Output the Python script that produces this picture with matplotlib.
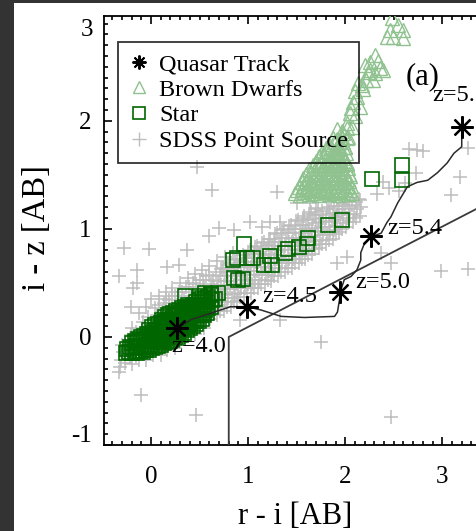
import matplotlib
matplotlib.use("Agg")
import matplotlib.pyplot as plt
import matplotlib.transforms as mtransforms
from matplotlib.lines import Line2D
from matplotlib.patches import Rectangle
from matplotlib.ticker import MultipleLocator

plt.rcParams["font.family"] = ["Liberation Serif", "DejaVu Serif"]
plt.rcParams["axes.unicode_minus"] = False

# ------------------------------------------------------------
# data
# ------------------------------------------------------------
# quasar colour track
track_x = [0.27, 0.41, 0.55, 0.65, 0.82, 0.99, 1.13, 1.34, 1.58, 1.89, 1.92,
           1.94, 1.95, 1.99, 2.06, 2.12, 2.16, 2.16, 2.20, 2.27, 2.37, 2.43,
           2.47, 2.54, 2.58, 2.64, 2.74, 2.85, 2.95, 3.05, 3.12, 3.20, 3.20]
track_y = [0.08, 0.16, 0.20, 0.23, 0.28, 0.28, 0.25, 0.19, 0.18, 0.19, 0.23,
           0.34, 0.42, 0.53, 0.56, 0.62, 0.71, 0.78, 0.87, 0.93, 0.96, 1.06,
           1.11, 1.24, 1.30, 1.39, 1.43, 1.45, 1.52, 1.61, 1.70, 1.76, 1.94]

# redshift markers on the track
z_x = [0.27, 0.99, 1.95, 2.27, 3.20]
z_y = [0.08, 0.28, 0.42, 0.93, 1.94]
z_labels = ["z=4.0", "z=4.5", "z=5.0", "z=5.4", "z=5.5"]
z_label_x = [0.21, 1.15, 2.10, 2.43, 2.90]
z_label_y = [-0.09, 0.37, 0.50, 1.00, 2.23]

# selection boundary
cut_x = [0.80, 0.80, 3.60]
cut_y = [-1.00, 0.00, 1.30]

# SDSS point sources: stellar locus band + scattered sources
sdss_xy = [
    (-0.31, -0.21), (-0.29, -0.14), (-0.30, -0.07), (-0.22, -0.19), (-0.24, -0.12),
    (-0.23, -0.05), (-0.21, 0.02), (-0.16, -0.18), (-0.15, -0.10), (-0.17, -0.03),
    (-0.16, 0.05), (-0.09, -0.15), (-0.08, -0.08), (-0.10, 0.00), (-0.09, 0.07),
    (-0.08, 0.14), (-0.02, -0.13), (-0.03, -0.05), (-0.01, 0.03), (-0.02, 0.10),
    (-0.03, 0.18), (0.05, -0.10), (0.06, -0.02), (0.04, 0.06), (0.05, 0.13),
    (0.06, 0.20), (0.04, 0.27), (0.12, -0.08), (0.11, 0.00), (0.13, 0.08),
    (0.12, 0.15), (0.11, 0.23), (0.13, 0.31), (0.19, -0.05), (0.20, 0.03),
    (0.18, 0.10), (0.19, 0.18), (0.20, 0.26), (0.18, 0.34), (0.26, -0.01),
    (0.27, 0.07), (0.25, 0.15), (0.26, 0.22), (0.27, 0.30), (0.25, 0.38),
    (0.33, 0.02), (0.34, 0.10), (0.32, 0.18), (0.33, 0.26), (0.34, 0.34),
    (0.32, 0.42), (0.40, 0.06), (0.41, 0.14), (0.39, 0.22), (0.40, 0.30),
    (0.41, 0.38), (0.39, 0.46), (0.47, 0.10), (0.48, 0.18), (0.46, 0.26),
    (0.47, 0.33), (0.48, 0.41), (0.46, 0.49), (0.54, 0.13), (0.55, 0.21),
    (0.53, 0.29), (0.54, 0.37), (0.55, 0.45), (0.53, 0.53), (0.61, 0.17),
    (0.62, 0.25), (0.60, 0.33), (0.61, 0.41), (0.62, 0.49), (0.60, 0.57),
    (0.68, 0.20), (0.69, 0.28), (0.67, 0.36), (0.68, 0.44), (0.69, 0.52),
    (0.67, 0.60), (0.75, 0.24), (0.76, 0.32), (0.74, 0.40), (0.75, 0.48),
    (0.76, 0.56), (0.74, 0.64), (0.82, 0.28), (0.83, 0.36), (0.81, 0.44),
    (0.82, 0.52), (0.83, 0.60), (0.81, 0.68), (0.89, 0.33), (0.90, 0.41),
    (0.88, 0.49), (0.89, 0.57), (0.90, 0.65), (0.88, 0.72), (0.96, 0.37),
    (0.97, 0.45), (0.95, 0.53), (0.96, 0.61), (0.97, 0.69), (0.95, 0.76),
    (1.03, 0.41), (1.04, 0.49), (1.02, 0.57), (1.03, 0.65), (1.04, 0.73),
    (1.02, 0.80), (1.10, 0.45), (1.11, 0.53), (1.09, 0.61), (1.10, 0.69),
    (1.11, 0.77), (1.09, 0.84), (1.17, 0.49), (1.18, 0.57), (1.16, 0.65),
    (1.17, 0.73), (1.18, 0.81), (1.16, 0.88), (1.24, 0.52), (1.25, 0.60),
    (1.23, 0.68), (1.24, 0.76), (1.25, 0.84), (1.23, 0.91), (1.31, 0.56),
    (1.32, 0.64), (1.30, 0.72), (1.31, 0.80), (1.32, 0.88), (1.30, 0.96),
    (1.38, 0.60), (1.39, 0.68), (1.37, 0.76), (1.38, 0.84), (1.39, 0.92),
    (1.37, 1.00), (1.45, 0.64), (1.46, 0.72), (1.44, 0.80), (1.45, 0.88),
    (1.46, 0.96), (1.44, 1.04), (1.52, 0.68), (1.53, 0.76), (1.51, 0.84),
    (1.52, 0.92), (1.53, 1.00), (1.51, 1.08), (1.59, 0.72), (1.60, 0.80),
    (1.58, 0.88), (1.59, 0.96), (1.60, 1.04), (1.58, 1.12), (1.66, 0.77),
    (1.67, 0.85), (1.65, 0.93), (1.66, 1.01), (1.67, 1.09), (1.65, 1.16),
    (1.73, 0.82), (1.74, 0.90), (1.72, 0.98), (1.73, 1.06), (1.74, 1.13),
    (1.72, 1.19), (1.80, 0.86), (1.81, 0.94), (1.79, 1.02), (1.80, 1.10),
    (1.81, 1.18), (1.87, 0.91), (1.88, 0.99), (1.86, 1.07), (1.87, 1.15),
    (1.88, 1.21), (1.94, 0.97), (1.95, 1.05), (1.93, 1.13), (1.94, 1.21),
    (2.01, 1.02), (2.02, 1.10), (2.00, 1.18), (2.02, 1.25), (2.08, 1.06),
    (2.09, 1.14), (2.07, 1.22), (2.15, 1.12), (2.16, 1.20), (2.14, 1.28),
    # in-between sources of the dense locus
    (0.64, 0.21), (0.65, 0.29), (0.64, 0.37), (0.65, 0.45), (0.64, 0.53),
    (0.71, 0.24), (0.72, 0.32), (0.71, 0.40), (0.72, 0.48), (0.71, 0.56), (0.72, 0.63),
    (0.78, 0.28), (0.79, 0.36), (0.78, 0.44), (0.79, 0.52), (0.78, 0.60), (0.79, 0.67),
    (0.85, 0.32), (0.86, 0.40), (0.85, 0.48), (0.86, 0.56), (0.85, 0.64), (0.86, 0.71),
    (0.92, 0.37), (0.93, 0.45), (0.92, 0.53), (0.93, 0.61), (0.92, 0.69),
    (0.99, 0.41), (1.00, 0.49), (0.99, 0.57), (1.00, 0.65), (0.99, 0.73), (1.00, 0.79),
    (1.06, 0.45), (1.07, 0.53), (1.06, 0.61), (1.07, 0.69), (1.06, 0.77), (1.07, 0.83),
    (1.13, 0.49), (1.14, 0.57), (1.13, 0.65), (1.14, 0.73), (1.13, 0.81), (1.14, 0.87),
    (1.20, 0.53), (1.21, 0.61), (1.20, 0.69), (1.21, 0.77), (1.20, 0.85), (1.21, 0.91),
    (1.27, 0.56), (1.28, 0.64), (1.27, 0.72), (1.28, 0.80), (1.27, 0.88), (1.28, 0.95),
    (1.34, 0.60), (1.35, 0.68), (1.34, 0.76), (1.35, 0.84), (1.34, 0.92), (1.35, 0.99),
    (1.41, 0.64), (1.42, 0.72), (1.41, 0.80), (1.42, 0.88), (1.41, 0.96), (1.42, 1.03),
    (1.48, 0.68), (1.49, 0.76), (1.48, 0.84), (1.49, 0.92), (1.48, 1.00), (1.49, 1.07),
    (1.55, 0.72), (1.56, 0.80), (1.55, 0.88), (1.56, 0.96), (1.55, 1.04), (1.56, 1.10),
    (1.62, 0.76), (1.63, 0.84), (1.62, 0.92), (1.63, 1.00), (1.62, 1.08), (1.63, 1.14),
    (1.69, 0.81), (1.70, 0.89), (1.69, 0.97), (1.70, 1.05), (1.69, 1.13), (1.70, 1.18),
    (1.76, 0.86), (1.77, 0.94), (1.76, 1.02), (1.77, 1.10), (1.76, 1.17),
    (1.83, 0.90), (1.84, 0.98), (1.83, 1.06), (1.84, 1.14), (1.83, 1.20),
    (1.90, 0.95), (1.91, 1.03), (1.90, 1.11), (1.91, 1.18),
    (1.97, 1.00), (1.98, 1.08), (1.97, 1.16), (1.98, 1.23),
    (2.04, 1.06), (2.05, 1.14), (2.04, 1.21), (2.11, 1.10), (2.12, 1.18), (2.11, 1.25),
    # upper / lower fringe of the locus
    (-0.20, 0.08), (-0.12, 0.22), (-0.05, 0.28), (0.00, 0.35), (0.08, 0.38),
    (0.15, 0.42), (0.22, 0.45), (0.30, 0.50), (0.38, 0.55), (0.45, 0.58),
    (0.52, 0.62), (0.60, 0.66), (0.68, 0.70), (0.76, 0.74), (0.84, 0.78),
    (0.08, 0.30), (0.15, 0.35), (0.22, 0.38), (0.29, 0.42), (0.36, 0.46),
    (0.43, 0.50), (0.50, 0.53), (0.57, 0.56),
    (-0.32, -0.28), (-0.20, -0.25), (-0.05, -0.21), (0.10, -0.17), (0.25, -0.10),
    (-0.27, -0.24), (-0.12, -0.21), (0.02, -0.17), (0.16, -0.12), (0.30, -0.05),
    (0.45, 0.03), (0.55, 0.08), (0.92, 0.16), (1.33, 0.16),
    # scattered sources
    (0.47, 1.57), (0.63, 1.36), (1.30, 1.34), (2.74, 1.73), (2.80, 1.72),
    (2.73, 1.52), (3.09, 1.31), (-0.28, 0.82), (-0.02, 0.81), (0.70, 1.01),
    (0.60, 0.93), (0.16, 0.65), (0.29, 0.67), (-0.33, 0.56), (-0.14, 0.62),
    (2.99, 0.61), (3.26, 0.63), (2.47, 0.68), (1.75, -0.05), (-0.33, -0.32),
    (-0.10, -0.54), (0.46, -0.72), (2.47, -0.74), (1.92, 0.68), (2.37, 0.78),
    (3.18, 1.48), (0.37, 0.80), (-0.15, 0.50), (-0.19, 0.45), (-0.21, 0.28),
    (1.02, 1.06), (1.14, 1.02), (1.23, 1.06), (1.33, 1.06), (0.85, 0.99),
    (1.50, 1.24), (1.64, 1.24), (1.85, 1.27), (2.15, 1.27), (2.39, 1.43),
    (2.66, 1.74), (2.02, 0.74), (2.33, 1.32), (2.45, 1.38), (2.55, 1.35),
    (2.62, 1.42), (3.26, 1.75),
]

# brown dwarfs
bd_xy = [
    (1.48, 1.33), (1.53, 1.31), (1.58, 1.34), (1.63, 1.32), (1.68, 1.33),
    (1.73, 1.31), (1.78, 1.34), (1.83, 1.32), (1.88, 1.33), (1.93, 1.31),
    (1.98, 1.34), (2.03, 1.32), (2.07, 1.33),
    (1.50, 1.36), (1.55, 1.37), (1.60, 1.36), (1.65, 1.35), (1.70, 1.37),
    (1.75, 1.36), (1.80, 1.35), (1.85, 1.37), (1.90, 1.36), (1.95, 1.35),
    (2.00, 1.37), (2.05, 1.36),
    (1.52, 1.39), (1.57, 1.40), (1.62, 1.38), (1.67, 1.40), (1.72, 1.39),
    (1.77, 1.41), (1.82, 1.38), (1.87, 1.40), (1.92, 1.39), (1.97, 1.41),
    (2.02, 1.39), (2.06, 1.40),
    (1.55, 1.43), (1.60, 1.44), (1.65, 1.42), (1.70, 1.43), (1.75, 1.44),
    (1.80, 1.42), (1.85, 1.43), (1.90, 1.44), (1.95, 1.42), (2.00, 1.43),
    (2.04, 1.44),
    (1.57, 1.47), (1.62, 1.46), (1.67, 1.48), (1.72, 1.46), (1.77, 1.47),
    (1.82, 1.48), (1.87, 1.46), (1.92, 1.47), (1.97, 1.48), (2.02, 1.46),
    (2.05, 1.49),
    (1.60, 1.51), (1.65, 1.52), (1.70, 1.50), (1.75, 1.51), (1.80, 1.52),
    (1.85, 1.50), (1.90, 1.51), (1.95, 1.52), (2.00, 1.50), (2.04, 1.51),
    (1.63, 1.55), (1.68, 1.54), (1.73, 1.56), (1.78, 1.55), (1.83, 1.54),
    (1.88, 1.56), (1.93, 1.55), (1.98, 1.54), (2.03, 1.56),
    (1.67, 1.59), (1.72, 1.60), (1.77, 1.58), (1.82, 1.59), (1.87, 1.60),
    (1.92, 1.58), (1.97, 1.59), (2.02, 1.60),
    (1.70, 1.63), (1.75, 1.62), (1.80, 1.64), (1.85, 1.63), (1.90, 1.62),
    (1.95, 1.64), (2.00, 1.63),
    (1.73, 1.67), (1.78, 1.68), (1.83, 1.66), (1.88, 1.67), (1.93, 1.68),
    (1.98, 1.66),
    (1.76, 1.71), (1.81, 1.72), (1.86, 1.70), (1.91, 1.72), (1.96, 1.71),
    (2.01, 1.70), (1.80, 1.75), (1.85, 1.76), (1.90, 1.74), (1.95, 1.75),
    (2.00, 1.76), (1.83, 1.79), (1.88, 1.80), (1.93, 1.78), (1.98, 1.80),
    (1.87, 1.84), (1.92, 1.83), (1.97, 1.85), (2.02, 1.84),
    (1.92, 1.92), (1.97, 1.91), (2.02, 1.93),
    (2.12, 2.22), (2.08, 2.17), (2.15, 2.13), (2.05, 2.07), (2.10, 2.04),
    (2.02, 1.98), (2.07, 1.94), (1.98, 1.89), (2.03, 1.85), (1.95, 1.80),
    (2.00, 1.76), (1.92, 1.70), (1.97, 1.67), (1.88, 1.61), (2.02, 1.61),
    (2.06, 2.12), (2.10, 2.28), (2.17, 2.33), (2.26, 2.47), (2.20, 2.52),
    (2.31, 2.61), (2.34, 2.55), (2.26, 2.54), (2.36, 2.49), (2.23, 2.45),
    (2.31, 2.44), (2.39, 2.47), (2.21, 2.38), (2.29, 2.38), (2.13, 2.35),
    (2.18, 2.29), (2.48, 2.95), (2.54, 2.89), (2.46, 2.84), (2.59, 2.84),
    (2.49, 2.78), (2.60, 2.77), (2.43, 2.78),
]

# stars
star_xy = [
    (-0.26, -0.15), (-0.25, -0.11), (-0.23, -0.14), (-0.22, -0.09), (-0.20, -0.15),
    (-0.19, -0.10), (-0.20, -0.06), (-0.17, -0.13), (-0.16, -0.08), (-0.17, -0.04),
    (-0.14, -0.15), (-0.13, -0.10), (-0.14, -0.05), (-0.13, -0.02), (-0.11, -0.13),
    (-0.10, -0.08), (-0.11, -0.03), (-0.10, 0.00), (-0.08, -0.14), (-0.07, -0.09),
    (-0.08, -0.04), (-0.07, 0.01), (-0.05, -0.12), (-0.04, -0.07), (-0.05, -0.02),
    (-0.04, 0.03), (-0.02, -0.12), (-0.01, -0.07), (-0.02, -0.02), (-0.01, 0.03),
    (-0.02, 0.06), (0.01, -0.10), (0.02, -0.05), (0.01, 0.00), (0.02, 0.05),
    (0.01, 0.09), (0.04, -0.09), (0.05, -0.04), (0.04, 0.01), (0.05, 0.06),
    (0.04, 0.11), (0.07, -0.08), (0.08, -0.03), (0.07, 0.02), (0.08, 0.07),
    (0.07, 0.12), (0.10, -0.07), (0.11, -0.02), (0.10, 0.03), (0.11, 0.08),
    (0.10, 0.13), (0.11, 0.16), (0.13, -0.06), (0.14, -0.01), (0.13, 0.04),
    (0.14, 0.09), (0.13, 0.14), (0.14, 0.18), (0.16, -0.05), (0.17, 0.00),
    (0.16, 0.05), (0.17, 0.10), (0.16, 0.15), (0.17, 0.20), (0.19, -0.04),
    (0.20, 0.01), (0.19, 0.06), (0.20, 0.11), (0.19, 0.16), (0.20, 0.21),
    (0.22, -0.03), (0.23, 0.02), (0.22, 0.07), (0.23, 0.12), (0.22, 0.17),
    (0.23, 0.22), (0.25, -0.01), (0.26, 0.04), (0.25, 0.09), (0.26, 0.14),
    (0.25, 0.19), (0.26, 0.24), (0.28, 0.00), (0.29, 0.05), (0.28, 0.10),
    (0.29, 0.15), (0.28, 0.20), (0.29, 0.25), (0.31, 0.02), (0.32, 0.07),
    (0.31, 0.12), (0.32, 0.17), (0.31, 0.22), (0.32, 0.27), (0.34, 0.04),
    (0.35, 0.09), (0.34, 0.14), (0.35, 0.19), (0.34, 0.24), (0.35, 0.28),
    (0.37, 0.06), (0.38, 0.11), (0.37, 0.16), (0.38, 0.21), (0.37, 0.26),
    (0.38, 0.30), (0.40, 0.08), (0.41, 0.13), (0.40, 0.18), (0.41, 0.23),
    (0.40, 0.28), (0.43, 0.10), (0.44, 0.15), (0.43, 0.20), (0.44, 0.25),
    (0.43, 0.30), (0.46, 0.12), (0.47, 0.17), (0.46, 0.22), (0.47, 0.27),
    (0.46, 0.32), (0.49, 0.15), (0.50, 0.20), (0.49, 0.25), (0.50, 0.30),
    (0.49, 0.34), (0.52, 0.17), (0.53, 0.22), (0.52, 0.27), (0.53, 0.32),
    (0.52, 0.36), (0.55, 0.20), (0.56, 0.25), (0.55, 0.30), (0.56, 0.35),
    (0.58, 0.22), (0.59, 0.27), (0.58, 0.32), (0.59, 0.37), (0.62, 0.28),
    (0.63, 0.34), (0.62, 0.39),
    # individual stars further up the locus
    (0.35, 0.38), (0.50, 0.38), (0.56, 0.41), (0.62, 0.40), (0.69, 0.41),
    (0.66, 0.35), (0.85, 0.55), (0.90, 0.53), (0.95, 0.54), (0.84, 0.71),
    (0.89, 0.73), (0.99, 0.73), (0.96, 0.86), (1.05, 0.73), (1.16, 0.67),
    (1.25, 0.67), (1.23, 0.75), (1.38, 0.78), (1.41, 0.81), (1.52, 0.83),
    (1.61, 0.86), (1.62, 0.92), (1.82, 1.04), (1.97, 1.08), (2.28, 1.46),
    (2.58, 1.59), (2.58, 1.45),
]

GRAY = "#bdbdbd"
BD_GREEN = "#8fc28f"
STAR_GREEN = "#006600"

# ------------------------------------------------------------
fig = plt.figure(figsize=(4.77, 5.31), dpi=100, facecolor="#333333")
fig.add_artist(Rectangle((14 / 477, 0), 1 - 14 / 477, 1 - 3 / 531,
                         transform=fig.transFigure, facecolor="white",
                         edgecolor="none", zorder=-10))
ax = fig.add_axes([104 / 477, 1 - 445 / 531, (486 - 104) / 477, (445 - 16) / 531])

sx, sy = zip(*sdss_xy)
bx, by = zip(*bd_xy)
tx, ty = zip(*star_xy)

ax.plot(sx, sy, ls="none", marker="+", ms=9.4, mew=1.1, color=GRAY, zorder=2)
ax.plot(bx, by, ls="none", marker="^", ms=9.4, mew=1.0, mfc="none",
        mec=BD_GREEN, zorder=3)
ax.plot(tx, ty, ls="none", marker="s", ms=9.4, mew=1.2, mfc="none",
        mec=STAR_GREEN, zorder=4)
ax.plot(cut_x, cut_y, color="#3a3a3a", lw=1.3, zorder=5)
ax.plot(track_x, track_y, color="#2a2a2a", lw=1.1, zorder=5)
ax.plot(z_x, z_y, ls="none", marker=(8, 2, 0), ms=16, mew=1.6,
        color="black", zorder=6)

for lab, lx, ly in zip(z_labels, z_label_x, z_label_y):
    ax.text(lx, ly, lab, fontsize=17.5, ha="left", va="center", zorder=7)
ax.text(2.62, 2.41, "(a)", fontsize=22, ha="left", va="center", zorder=7)

ax.set_xlim(-0.485, 3.45)
ax.set_ylim(-1.0, 2.97)
ax.set_xticks([0, 1, 2, 3])
ax.set_yticks([-1, 0, 1, 2], labels=["-1", "0", "1", "2"])
ax.xaxis.set_minor_locator(MultipleLocator(0.1))
ax.yaxis.set_minor_locator(MultipleLocator(0.1))
ax.tick_params(which="both", direction="in", top=True, right=False,
               width=1.2, labelsize=18)
ax.tick_params(which="major", length=6)
ax.tick_params(which="minor", length=3)
ax.tick_params(axis="x", pad=15)
ax.tick_params(axis="y", pad=9)
for sp in ax.spines.values():
    sp.set_linewidth(1.3)

# the end labels sit inside the axis range, as in the original
lbl = ax.get_yticklabels()[0]
lbl.set_transform(lbl.get_transform()
                  + mtransforms.ScaledTranslation(0, 0.12, fig.dpi_scale_trans))
ax.text(-9 / 380 - 0.005, 2.84, "3", fontsize=18, ha="right", va="center",
        transform=mtransforms.blended_transform_factory(ax.transAxes, ax.transData))

ax.set_xlabel("r - i [AB]", fontsize=22)
ax.set_ylabel("i - z [AB]", fontsize=23.5)
ax.xaxis.set_label_coords(0.5, -0.132)
ax.yaxis.set_label_coords(-0.137, 0.505)

handles = [
    Line2D([], [], ls="none", marker=(8, 2, 0), ms=10, mew=1.4, color="black",
           label="Quasar Track"),
    Line2D([], [], ls="none", marker="^", ms=9, mew=1.0, mfc="none",
           mec=BD_GREEN, label="Brown Dwarfs"),
    Line2D([], [], ls="none", marker="s", ms=9, mew=1.2, mfc="none",
           mec=STAR_GREEN, label="Star"),
    Line2D([], [], ls="none", marker="+", ms=10, mew=1.0, color=GRAY,
           label="SDSS Point Source"),
]
leg = ax.legend(handles=handles, loc="upper left", bbox_to_anchor=(0.037, 0.939),
                borderaxespad=0, fontsize=17.5, fancybox=False, edgecolor="black",
                facecolor="none", framealpha=None, handlelength=0.8,
                handletextpad=0.45, labelspacing=0.15, borderpad=0.45)
leg.get_frame().set_linewidth(1.3)
# transparent frame, drawn above the markers so the text stays readable
leg.set_zorder(10)

fig.savefig("out.png", dpi=100, facecolor=fig.get_facecolor())
